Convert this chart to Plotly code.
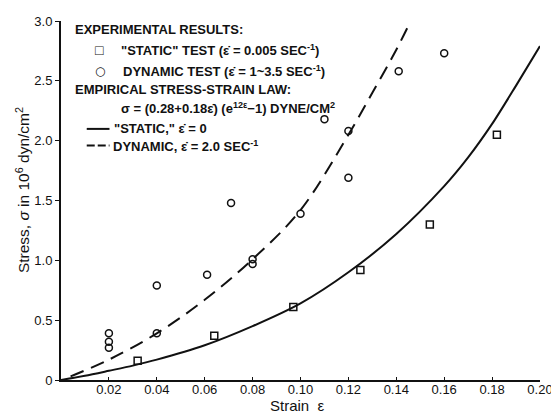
import plotly.graph_objects as go

# ---- data ----
static_eps = [0.032, 0.064, 0.097, 0.125, 0.154, 0.182]
static_sig = [0.16, 0.37, 0.61, 0.92, 1.30, 2.05]

dyn_eps = [0.020, 0.020, 0.020, 0.040, 0.040, 0.061, 0.071, 0.080, 0.080,
           0.100, 0.110, 0.120, 0.120, 0.141, 0.160]
dyn_sig = [0.39, 0.32, 0.27, 0.79, 0.39, 0.88, 1.48, 1.01, 0.97,
           1.39, 2.18, 2.08, 1.69, 2.58, 2.73]

static_curve_eps = [0.0, 0.01, 0.02, 0.03, 0.04, 0.06, 0.08, 0.10, 0.12,
                    0.14, 0.16, 0.17, 0.18, 0.19, 0.20]
static_curve_sig = [0.0, 0.035, 0.077, 0.12, 0.17, 0.29, 0.45, 0.64, 0.90,
                    1.22, 1.62, 1.86, 2.14, 2.46, 2.79]

dyn_curve_eps = [0.004, 0.02, 0.04, 0.06, 0.08, 0.10, 0.12, 0.13, 0.14, 0.146]
dyn_curve_sig = [0.03, 0.17, 0.39, 0.67, 1.01, 1.42, 2.05, 2.40, 2.76, 3.0]

x_ticks = [0.02, 0.04, 0.06, 0.08, 0.10, 0.12, 0.14, 0.16, 0.18, 0.20]
x_tick_text = ["0.02", "0.04", "0.06", "0.08", "0.10", "0.12", "0.14", "0.16", "0.18", "0.20"]
y_ticks = [0, 0.5, 1.0, 1.5, 2.0, 2.5, 3.0]
y_tick_text = ["0", "0.5", "1.0", "1.5", "2.0", "2.5", "3.0"]

# ---- layout geometry (screen pixels; page body has an 8px margin) ----
OFF = 8
W, H = 559 - OFF, 415 - OFF
PL, PR, PT, PB = 61, 545, 14, 380          # plot area in screen pixels
L, T = PL - OFF, PT - OFF
R, B = W - (PR - OFF), H - (PB - OFF)
PW, PH = PR - PL, PB - PT


def px(x):
    return (x - PL) / PW


def py(y):
    return (PB - y) / PH


FONT = "Liberation Sans, Arial, sans-serif"
BLACK = "#111111"

fig = go.Figure()

fig.add_trace(go.Scatter(x=static_curve_eps, y=static_curve_sig, mode="lines",
                         line=dict(color=BLACK, width=2, shape="spline", smoothing=0.8),
                         showlegend=False, hoverinfo="skip"))
fig.add_trace(go.Scatter(x=dyn_curve_eps, y=dyn_curve_sig, mode="lines",
                         line=dict(color=BLACK, width=2, shape="spline", dash="14px,8px"),
                         showlegend=False, hoverinfo="skip"))
fig.add_trace(go.Scatter(x=static_eps, y=static_sig, mode="markers",
                         marker=dict(symbol="square-open", size=7, color=BLACK,
                                     line=dict(width=1.5, color=BLACK)),
                         showlegend=False))
fig.add_trace(go.Scatter(x=dyn_eps, y=dyn_sig, mode="markers",
                         marker=dict(symbol="circle-open", size=7, color=BLACK,
                                     line=dict(width=1.5, color=BLACK)),
                         showlegend=False))

fig.update_xaxes(range=[0, 0.20], tickvals=x_ticks, ticktext=x_tick_text,
                 showgrid=False, zeroline=False, showline=True,
                 linecolor=BLACK, linewidth=2, ticks="inside", ticklen=3,
                 tickcolor=BLACK, ticklabelstandoff=-4, ticklabeloverflow="allow",
                 tickfont=dict(family=FONT, size=13, color=BLACK))
fig.update_yaxes(range=[0, 3.0], tickvals=y_ticks, ticktext=y_tick_text,
                 showgrid=False, zeroline=False, showline=True,
                 linecolor=BLACK, linewidth=2, ticks="outside", ticklen=4,
                 tickcolor=BLACK, ticklabeloverflow="allow",
                 tickfont=dict(family=FONT, size=13, color=BLACK))

annotations = []


def txt(x, y, s, size=13, bold=True):
    annotations.append(dict(xref="paper", yref="paper", x=px(x), y=py(y),
                            xanchor="left", yanchor="middle", showarrow=False,
                            text=("<b>%s</b>" % s) if bold else s,
                            font=dict(family=FONT, size=size, color=BLACK)))


txt(73, 23, "EXPERIMENTAL RESULTS:")
txt(120, 44, "\"STATIC\" TEST (ε̇ = 0.005 SEC<sup>-1</sup>)")
txt(122, 65, "DYNAMIC TEST (ε̇ = 1~3.5 SEC<sup>-1</sup>)")
txt(73, 84, "EMPIRICAL STRESS-STRAIN LAW:")
txt(120, 103, "σ = (0.28+0.18ε̇) (e<sup>12ε</sup>−1) DYNE/CM<sup>2</sup>")
txt(113, 124, "\"STATIC,\" ε̇ = 0")
txt(112, 141, "DYNAMIC, ε̇ = 2.0 SEC<sup>-1</sup>")

# legend symbols
annotations.append(dict(xref="paper", yref="paper", x=px(100), y=py(44),
                        xanchor="center", yanchor="middle", showarrow=False,
                        text="□", font=dict(family=FONT, size=14, color=BLACK)))
annotations.append(dict(xref="paper", yref="paper", x=px(100), y=py(65),
                        xanchor="center", yanchor="middle", showarrow=False,
                        text="○", font=dict(family="DejaVu Sans", size=12, color=BLACK)))

# axis titles
annotations.append(dict(xref="paper", yref="paper", x=px(22), y=py(186),
                        xanchor="center", yanchor="middle", showarrow=False,
                        textangle=-90,
                        text="Stress, <i>σ</i> in 10<sup>6</sup> dyn/cm<sup>2</sup>",
                        font=dict(family=FONT, size=15.5, color=BLACK)))
annotations.append(dict(xref="paper", yref="paper", x=px(300), y=py(406),
                        xanchor="center", yanchor="middle", showarrow=False,
                        text="Strain  ε",
                        font=dict(family=FONT, size=15, color=BLACK)))

shapes = [
    dict(type="line", xref="paper", yref="paper", x0=px(87), x1=px(110),
         y0=py(124), y1=py(124), line=dict(color=BLACK, width=2)),
    dict(type="line", xref="paper", yref="paper", x0=px(87), x1=px(110),
         y0=py(141), y1=py(141), line=dict(color=BLACK, width=2, dash="8px,3px")),
]

fig.update_layout(width=W, height=H, margin=dict(l=L, r=R, t=T, b=B),
                  paper_bgcolor="white", plot_bgcolor="white",
                  annotations=annotations, shapes=shapes, showlegend=False)

fig.write_html("out.html")
